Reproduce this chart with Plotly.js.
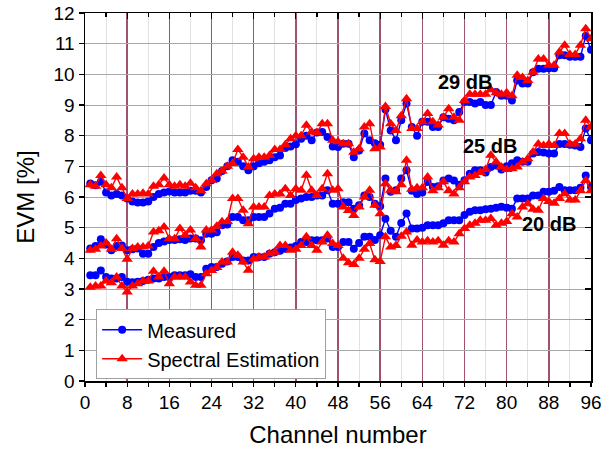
<!DOCTYPE html>
<html>
<head>
<meta charset="utf-8">
<script src="https://cdn.plot.ly/plotly-3.0.1.min.js"></script>
<style>html,body{margin:0;padding:0;background:#fff;}#chart{width:613px;height:450px;}</style>
</head>
<body>
<div id="chart"></div>
<script>
const channels = [1,2,3,4,5,6,7,8,9,10,11,12,13,14,15,16,17,18,19,20,21,22,23,24,25,26,27,28,29,30,31,32,33,34,35,36,37,38,39,40,41,42,43,44,45,46,47,48,49,50,51,52,53,54,55,56,57,58,59,60,61,62,63,64,65,66,67,68,69,70,71,72,73,74,75,76,77,78,79,80,81,82,83,84,85,86,87,88,89,90,91,92,93,94,95,96];

const meas29 = [6.44,6.38,6.5,6.15,6.05,6.1,6.05,5.95,5.85,5.82,5.82,5.85,6.0,6.1,6.15,6.18,6.15,6.15,6.15,6.2,
  6.2,6.15,6.33,6.55,6.6,6.85,7.0,7.2,7.15,7.0,6.87,7.0,7.1,7.15,7.2,7.3,7.35,7.6,7.65,7.72,
  7.9,8.0,7.85,8.1,8.12,7.96,7.65,7.63,7.74,7.74,7.3,7.52,8.07,7.85,7.75,7.7,8.85,8.17,7.85,8.5,
  9.05,8.28,8.0,8.45,8.45,8.28,8.28,8.6,8.55,8.5,8.77,9.1,9.1,9.05,9.1,9.0,9.0,9.42,9.3,9.3,
  9.15,9.8,9.7,9.7,10.07,10.18,10.18,10.2,10.2,10.62,10.62,10.57,10.57,10.57,11.25,10.8];
const spec29 = [6.4,6.35,6.7,6.4,6.3,6.65,6.3,5.95,6.1,6.1,6.12,6.1,6.35,6.4,6.62,6.4,6.35,6.4,6.35,6.45,
  6.3,6.2,6.43,6.55,6.76,6.85,7.0,7.09,7.55,7.3,6.98,7.25,7.3,7.3,7.35,7.55,7.55,7.7,7.9,8.0,
  8.0,8.34,8.12,8.1,8.39,8.39,7.85,7.8,7.74,7.74,7.46,7.57,8.28,8.39,7.57,7.63,8.95,8.39,8.17,8.65,
  9.2,8.23,8.23,8.45,8.72,8.45,8.35,8.6,8.88,8.6,8.5,9.15,9.35,9.35,9.35,9.35,9.5,9.4,9.35,9.4,
  9.3,9.97,9.9,9.8,10.07,10.5,10.5,10.3,10.3,10.73,10.95,10.65,10.65,10.95,11.49,11.16];
const meas25 = [4.32,4.4,4.62,4.45,4.26,4.4,4.42,4.26,4.3,4.32,4.15,4.15,4.37,4.5,4.55,4.6,4.6,4.62,4.6,4.65,
  4.65,4.59,4.8,4.8,4.85,5.08,5.1,5.35,5.35,5.24,5.24,5.35,5.35,5.35,5.46,5.62,5.65,5.78,5.78,5.9,
  5.95,6.0,6.0,6.05,6.05,6.22,5.78,5.78,5.83,5.83,5.62,5.73,6.05,6.0,5.78,5.7,6.6,6.17,6.22,6.6,
  6.87,6.2,6.1,6.15,6.49,6.33,6.35,6.54,6.6,6.54,6.4,6.55,6.76,6.87,6.87,6.8,6.98,7.03,6.9,7.0,
  7.1,7.2,7.15,7.15,7.42,7.47,7.45,7.42,7.42,7.73,7.73,7.7,7.68,7.63,8.23,7.85];
const spec25 = [4.26,4.3,4.4,4.5,4.3,4.64,4.32,3.97,4.32,4.37,4.37,4.4,4.86,4.9,5.02,4.64,4.64,4.97,4.75,4.92,
  4.65,4.37,4.92,4.92,5.05,5.19,5.2,5.95,5.95,5.57,5.13,5.67,5.67,5.67,6.05,6.1,6.1,6.27,6.05,6.27,
  6.22,6.71,6.22,6.05,6.27,6.76,6.22,6.27,5.67,5.56,5.4,5.67,6.0,6.22,5.73,5.45,6.43,6.22,6.17,6.4,
  7.2,6.25,6.3,6.3,6.65,6.2,6.3,6.5,6.2,6.1,6.3,6.5,6.65,6.7,6.8,6.9,7.36,7.14,6.98,6.9,
  6.92,6.98,7.14,7.25,7.47,7.73,7.68,7.73,7.68,8.07,8.07,7.73,7.73,7.9,8.5,8.28];
const meas20 = [3.45,3.45,3.6,3.39,3.34,3.34,3.39,3.24,3.22,3.24,3.26,3.3,3.34,3.34,3.39,3.39,3.45,3.45,3.45,3.48,
  3.39,3.39,3.66,3.72,3.72,3.82,3.9,4.04,4.04,3.93,3.93,4.04,4.04,4.04,4.15,4.2,4.25,4.31,4.35,4.4,
  4.53,4.53,4.59,4.59,4.59,4.65,4.37,4.37,4.53,4.53,4.31,4.5,4.7,4.7,4.6,4.75,5.29,4.9,4.7,5.15,
  5.46,4.97,4.97,5.0,5.08,5.08,5.08,5.14,5.24,5.24,5.24,5.41,5.52,5.57,5.57,5.6,5.62,5.65,5.68,5.65,
  5.62,5.95,5.95,5.95,6.05,6.05,6.17,6.17,6.2,6.33,6.22,6.22,6.22,6.3,6.7,6.33];
const spec20 = [3.06,3.1,3.1,3.26,3.2,3.39,3.1,2.9,3.1,3.17,3.26,3.26,3.58,3.39,3.58,3.17,3.39,3.39,3.39,3.23,
  3.12,3.12,3.5,3.6,3.7,3.88,3.88,4.2,4.1,3.88,3.61,3.98,4.04,4.04,4.15,4.2,4.42,4.42,4.26,4.3,
  4.42,4.7,4.42,4.26,4.53,4.75,4.48,4.42,4.0,3.86,3.8,4.0,4.3,4.48,3.95,3.9,4.7,4.37,4.42,4.72,
  4.86,4.43,4.6,4.53,4.57,4.53,4.57,4.43,4.57,4.53,4.8,4.97,5.08,5.14,5.24,5.24,5.3,5.08,5.14,5.2,
  5.45,5.35,5.67,5.78,5.6,5.57,5.95,5.85,5.8,5.95,6.11,5.9,5.9,6.2,6.54,6.2];

const seriesNames = ['Measured', 'Spectral Estimation'];
const snrLabels = ['29 dB', '25 dB', '20 dB'];
const labelX = [72.1, 76.9, 88.0];
const labelY = [9.74, 7.65, 5.11];

const measStyle = {mode:'lines+markers', line:{color:'#0000ff', width:1.4},
  marker:{symbol:'circle', size:8, color:'#0000ff'}};
const specStyle = {mode:'lines+markers', line:{color:'#ff0000', width:1.4},
  marker:{symbol:'triangle-up', size:10, color:'#ff0000'}};

const traces = [];
[meas29, meas25, meas20].forEach((d, i) => {
  traces.push(Object.assign({x:channels, y:d, name:seriesNames[0], legendgroup:'m',
    showlegend:i===0, cliponaxis:true}, JSON.parse(JSON.stringify(measStyle))));
});
[spec29, spec25, spec20].forEach((d, i) => {
  traces.push(Object.assign({x:channels, y:d, name:seriesNames[1], legendgroup:'s',
    showlegend:i===0, cliponaxis:true}, JSON.parse(JSON.stringify(specStyle))));
});
traces.push({x:[], y:[], xaxis:'x2', yaxis:'y2', showlegend:false, hoverinfo:'skip'});

const font = 'Liberation Sans, Arial, sans-serif';
const layout = {
  width:613, height:450,
  margin:{l:85, r:22, t:13, b:69},
  paper_bgcolor:'#ffffff', plot_bgcolor:'#ffffff',
  font:{family:font, size:19, color:'#000'},
  showlegend:true,
  legend:{x:0.022, y:0.195, xanchor:'left', yanchor:'top', bgcolor:'#ffffff',
    bordercolor:'#a0a0a0', borderwidth:1, font:{family:font, size:20, color:'#000'},
    tracegroupgap:0, itemwidth:40},
  xaxis:{range:[0,96], tick0:0, dtick:8, ticks:'outside', ticklen:4, tickwidth:1.3, tickcolor:'#000',
    showline:true, linecolor:'#000', linewidth:1.5, mirror:true, zeroline:false,
    showgrid:true, gridcolor:'#a05070', gridwidth:1.5,
    minor:{dtick:4, ticks:'outside', ticklen:4, tickcolor:'#000', showgrid:true, gridcolor:'#e2e2e2', gridwidth:1},
    tickfont:{family:font, size:19, color:'#000'},
    title:{text:'Channel number', font:{family:font, size:24, color:'#000'}, standoff:14}},
  yaxis:{range:[0,12], tick0:0, dtick:1, ticks:'outside', ticklen:5, tickwidth:1.3, tickcolor:'#000',
    showline:true, linecolor:'#000', linewidth:1.5, mirror:true, zeroline:false,
    showgrid:true, gridcolor:'#a8a8a8', gridwidth:1,
    tickfont:{family:font, size:19, color:'#000'},
    title:{text:'EVM [%]', font:{family:font, size:24, color:'#000'}, standoff:12}},
  xaxis2:{overlaying:'x', side:'top', range:[0,96], tick0:0, dtick:8, ticks:'inside', ticklen:6,
    tickwidth:1.3, tickcolor:'#000', showticklabels:false, showgrid:false, zeroline:false,
    minor:{dtick:4, ticks:'inside', ticklen:4, tickcolor:'#000', showgrid:false}},
  yaxis2:{overlaying:'y', side:'right', range:[0,12], tick0:0, dtick:1, ticks:'inside', ticklen:6,
    tickwidth:1.3, tickcolor:'#000', showticklabels:false, showgrid:false, zeroline:false},
  annotations: snrLabels.map((t, i) => ({x:labelX[i], y:labelY[i], xref:'x', yref:'y', text:'<b>'+t+'</b>',
    showarrow:false, font:{family:font, size:20, color:'#000'}}))
};

Plotly.newPlot('chart', traces, layout, {displayModeBar:false, staticPlot:true});
</script>
</body>
</html>
